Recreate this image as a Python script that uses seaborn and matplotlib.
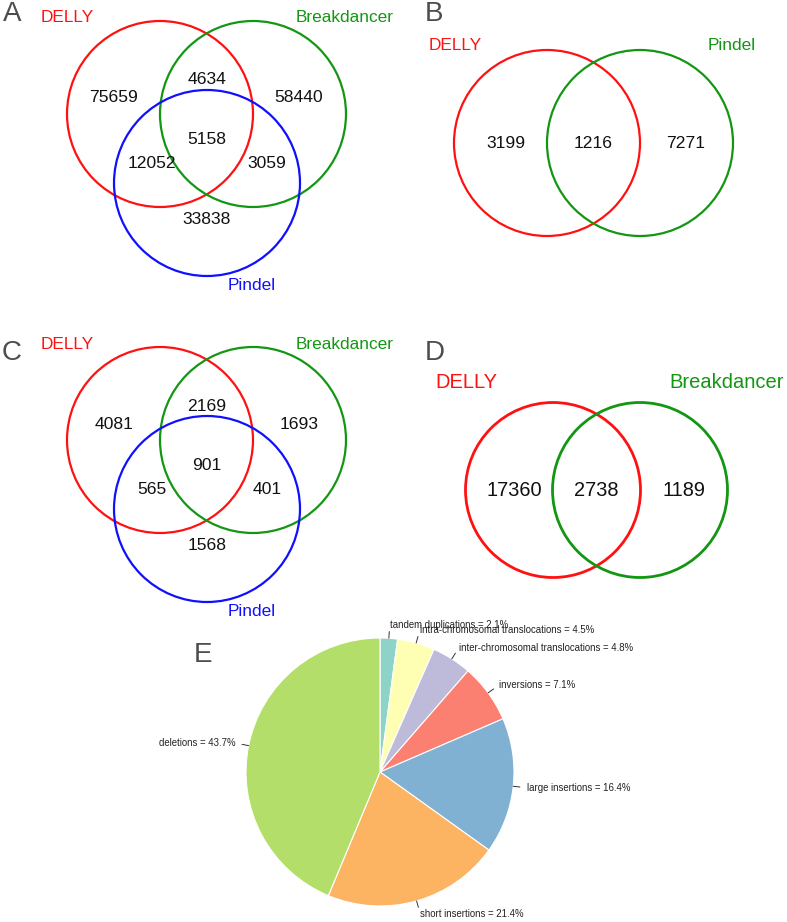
import numpy as np
import matplotlib
matplotlib.use("Agg")
import matplotlib.pyplot as plt
from matplotlib.patches import Circle
import seaborn as sns

# Venn counts (order: only1, 1&2, only2, all, 1&3, 2&3, only3)
venn_a_names = ["DELLY", "Breakdancer", "Pindel"]
venn_a_counts = [75659, 4634, 58440, 5158, 12052, 3059, 33838]

venn_b_names = ["DELLY", "Pindel"]
venn_b_counts = [3199, 1216, 7271]   # only1, both, only2

venn_c_names = ["DELLY", "Breakdancer", "Pindel"]
venn_c_counts = [4081, 2169, 1693, 901, 565, 401, 1568]

venn_d_names = ["DELLY", "Breakdancer"]
venn_d_counts = [17360, 2738, 1189]

# Pie: SV type shares (%)
sv_types = ["tandem duplications", "intra-chromosomal translocations",
            "inter-chromosomal translocations", "inversions",
            "large insertions", "short insertions", "deletions"]
sv_pct = [2.1, 4.5, 4.8, 7.1, 16.4, 21.4, 43.7]

sns.set_theme(style="white")
plt.rcParams["font.family"] = ["Liberation Sans", "DejaVu Sans"]

set_colors = ["#ff1111", "#139713", "#1010ff"]
letter_color = "#4d4d4d"

fig = plt.figure(figsize=(7.87, 9.22), dpi=100)
ax = fig.add_axes([0, 0, 1, 1])
ax.set_xlim(0, 787)
ax.set_ylim(922, 0)
ax.axis("off")


def venn3(ax, origin, counts, names, letter, letter_xy):
    ox, oy = origin
    r = 93
    centers = [(-47, -35), (46, -35), (0, 34)]
    for (cx, cy), col in zip(centers, set_colors):
        ax.add_patch(Circle((ox + cx, oy + cy), r, fill=False, ec=col, lw=1.6))
    spots = [(-93, -51), (0, -69), (92, -51), (0, -10), (-55, 14), (60, 14), (0, 70)]
    for (dx, dy), n in zip(spots, counts):
        ax.text(ox + dx, oy + dy, str(n), ha="center", va="center",
                fontsize=12.6, color="#111111")
    name_spots = [(-140, -131), (138, -131), (45, 136)]
    for (dx, dy), nm, col in zip(name_spots, names, set_colors):
        ax.text(ox + dx, oy + dy, nm, ha="center", va="center",
                fontsize=12.4, color=col)
    ax.text(*letter_xy, letter, ha="center", va="center", fontsize=20,
            color=letter_color)


def venn2(ax, origin, counts, names, letter, letter_xy, r, d, num_dx,
          name_d, fs_num, fs_name, lw):
    ox, oy = origin
    cols = [set_colors[0], set_colors[1]]
    for cx, col in zip([-d, d], cols):
        ax.add_patch(Circle((ox + cx, oy), r, fill=False, ec=col, lw=lw))
    for dx, n in zip(num_dx, counts):
        ax.text(ox + dx, oy, str(n), ha="center", va="center",
                fontsize=fs_num, color="#111111")
    for sgn, nm, col in zip([-1, 1], names, cols):
        ax.text(ox + sgn * name_d[0], oy + name_d[1], nm, ha="center",
                va="center", fontsize=fs_name, color=col)
    ax.text(*letter_xy, letter, ha="center", va="center", fontsize=20,
            color=letter_color)


venn3(ax, (207, 149), venn_a_counts, venn_a_names, "A", (12, 14))
venn2(ax, (593.5, 143), venn_b_counts, venn_b_names, "B", (434, 14),
      93, 46.5, [-87.5, 0, 92.5], (138.5, -97), 12.6, 12.4, 1.6)
venn3(ax, (207, 475), venn_c_counts, venn_c_names, "C", (12, 353))
venn2(ax, (596.5, 490), venn_d_counts, venn_d_names, "D", (435, 353),
      87.5, 43.5, [-82.5, 0, 87.5], (130.5, -108), 14.4, 14.5, 2.0)

ax.text(203, 655, "E", ha="center", va="center", fontsize=20, color=letter_color)

# pie panel
R = 134
W = 150
cx, cy = 380, 772
pax = fig.add_axes([(cx - W) / 787, 1 - (cy + W) / 922, 2 * W / 787, 2 * W / 922])
pie_colors = sns.color_palette("Set3", len(sv_pct))
wedges, _ = pax.pie(sv_pct, colors=pie_colors, startangle=90, counterclock=False,
                    radius=R, wedgeprops=dict(edgecolor="white", linewidth=0.8))
pax.set_xlim(-W, W)
pax.set_ylim(-W, W)
pax.axis("off")
for w, name, p in zip(wedges, sv_types, sv_pct):
    ang = np.deg2rad((w.theta1 + w.theta2) / 2)
    x, y = np.cos(ang), np.sin(ang)
    pax.plot([R * x, 1.05 * R * x], [R * y, 1.05 * R * y], color="#333333",
             lw=0.7, clip_on=False)
    pax.text(1.1 * R * x, 1.1 * R * y, f"{name} = {p}%",
             ha="left" if x > 0 else "right", va="center", fontsize=6.9,
             color="#222222", clip_on=False)

fig.savefig("out.png", dpi=100)
